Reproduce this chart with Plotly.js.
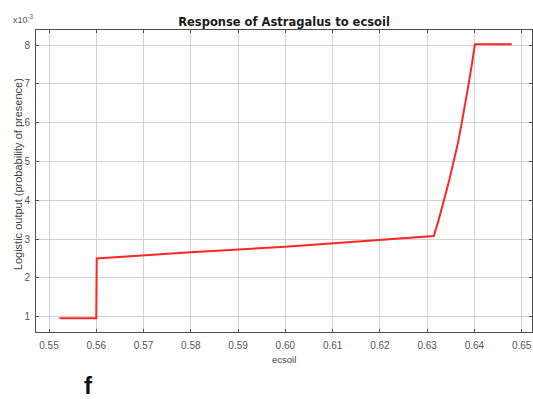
<!DOCTYPE html>
<html>
<head>
<meta charset="utf-8">
<script src="https://cdn.plot.ly/plotly-3.0.1.min.js"></script>
<style>
  html, body { margin: 0; padding: 0; background: #ffffff; }
  #chart { width: 533px; height: 399px; }
</style>
</head>
<body>
<div id="chart"></div>
<script>
// Response curve of Astragalus to soil electrical conductivity (ecsoil)
const ecsoil = [0.5522, 0.5600, 0.5601, 0.5800, 0.6000, 0.6314, 0.6325, 0.6336, 0.6346, 0.6356, 0.6365, 0.6373, 0.6381, 0.6388, 0.6395, 0.6401, 0.6479];
// logistic output, in units of 10^-3
const logisticOutput = [0.96, 0.96, 2.50, 2.66, 2.80, 3.08, 3.52, 4.01, 4.48, 5.00, 5.47, 5.98, 6.50, 7.01, 7.53, 8.02, 8.02];

const xTickVals = [0.55, 0.56, 0.57, 0.58, 0.59, 0.60, 0.61, 0.62, 0.63, 0.64, 0.65];
const xTickText = ['0.55', '0.56', '0.57', '0.58', '0.59', '0.60', '0.61', '0.62', '0.63', '0.64', '0.65'];
const yTickVals = [1, 2, 3, 4, 5, 6, 7, 8];
const yTickText = ['1', '2', '3', '4', '5', '6', '7', '8'];

const titleText = 'Response of Astragalus to ecsoil';
const xLabel = 'ecsoil';
const yLabel = 'Logistic output (probability of presence)';
const exponentLabel = 'x10<sup>-3</sup>';
const panelLabel = 'f';

const font = 'Liberation Sans, Arial, sans-serif';
const titleFont = 'DejaVu Sans, Verdana, sans-serif';

const trace = {
  x: ecsoil,
  y: logisticOutput,
  type: 'scatter',
  mode: 'lines',
  line: { color: '#ff2626', width: 2 },
  hoverinfo: 'skip'
};

const axisCommon = {
  showline: true,
  linecolor: '#4d4d4d',
  linewidth: 1,
  mirror: 'allticks',
  ticks: 'inside',
  ticklen: 3,
  tickcolor: '#4d4d4d',
  showgrid: true,
  gridcolor: '#d2d2d2',
  gridwidth: 1,
  zeroline: false,
  tickfont: { family: font, size: 10, color: '#555555' },
  fixedrange: true
};

const layout = {
  width: 533,
  height: 399,
  margin: { l: 36, r: 1, t: 30, b: 67 },
  paper_bgcolor: '#ffffff',
  plot_bgcolor: '#ffffff',
  showlegend: false,
  title: {
    text: '<b>' + titleText + '</b>',
    font: { family: titleFont, size: 11.5, color: '#1a1a1a' },
    x: 0.5, xref: 'paper', xanchor: 'center',
    y: 1, yref: 'paper', yanchor: 'bottom',
    pad: { b: 4 }
  },
  xaxis: Object.assign({}, axisCommon, {
    range: [0.54725, 0.65218],
    tickmode: 'array',
    tickvals: xTickVals,
    ticktext: xTickText,
    ticklabelstandoff: 4
  }),
  yaxis: Object.assign({}, axisCommon, {
    range: [0.605, 8.387],
    tickmode: 'array',
    tickvals: yTickVals,
    ticktext: yTickText,
    ticklabelstandoff: 3
  }),
  annotations: [
    {
      text: xLabel, xref: 'paper', yref: 'paper',
      x: 0.5, y: -0.092, xanchor: 'center', yanchor: 'middle',
      showarrow: false, font: { family: font, size: 9.5, color: '#444444' }
    },
    {
      text: yLabel, xref: 'paper', yref: 'paper',
      x: -0.036, y: 0.523, xanchor: 'center', yanchor: 'middle',
      textangle: -90, showarrow: false,
      font: { family: font, size: 11, color: '#444444' }
    },
    {
      text: exponentLabel, xref: 'paper', yref: 'paper',
      x: -0.05, y: 1.01, xanchor: 'left', yanchor: 'bottom',
      showarrow: false, font: { family: font, size: 9, color: '#555555' }
    },
    {
      text: '<b>' + panelLabel + '</b>', xref: 'paper', yref: 'paper',
      x: 0.106, y: -0.176, xanchor: 'center', yanchor: 'middle',
      showarrow: false, font: { family: font, size: 24, color: '#111111' }
    }
  ]
};

Plotly.newPlot('chart', [trace], layout, { displayModeBar: false, staticPlot: true });
</script>
</body>
</html>
